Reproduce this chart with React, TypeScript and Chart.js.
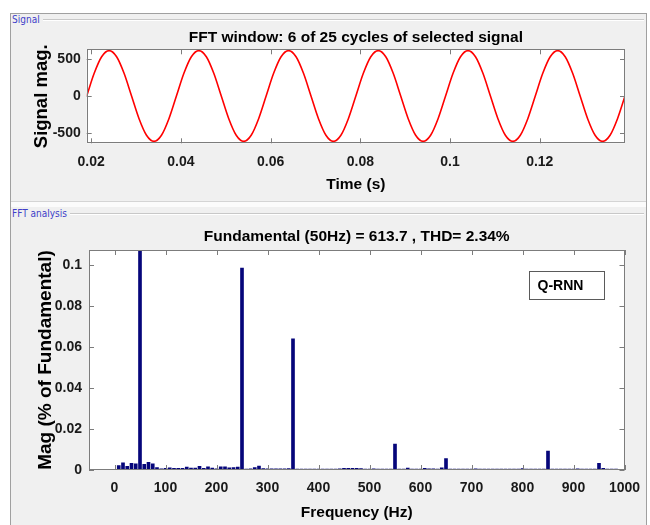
import React, { useEffect, useRef } from 'react';
import { Chart, registerables } from 'chart.js';

Chart.register(...registerables);

const FONT = "'Liberation Sans', Arial, Helvetica, sans-serif";
const SMALL_FONT = "'Liberation Sans Narrow', 'DejaVu Sans Condensed', 'Liberation Sans', sans-serif";

// ---------- Signal panel data ----------
const sigTime = [
  0.019, 0.02067, 0.02233, 0.024, 0.02567, 0.02733, 0.029, 0.03067, 0.03233, 0.034, 0.03567, 0.03733,
  0.039, 0.04067, 0.04233, 0.044, 0.04567, 0.04733, 0.049, 0.05067, 0.05233, 0.054, 0.05567, 0.05733,
  0.059, 0.06067, 0.06233, 0.064, 0.06567, 0.06733, 0.069, 0.07067, 0.07233, 0.074, 0.07567, 0.07733,
  0.079, 0.08067, 0.08233, 0.084, 0.08567, 0.08733, 0.089, 0.09067, 0.09233, 0.094, 0.09567, 0.09733,
  0.099, 0.10067, 0.10233, 0.104, 0.10567, 0.10733, 0.109, 0.11067, 0.11233, 0.114, 0.11567, 0.11733,
  0.119, 0.12067, 0.12233, 0.124, 0.12567, 0.12733, 0.129, 0.13067, 0.13233, 0.134, 0.13567, 0.13733,
  0.139,
];
const sigValue = [
  0, 307, 531, 614, 531, 307, 0, -307, -531, -614, -531, -307,
  0, 307, 531, 614, 531, 307, 0, -307, -531, -614, -531, -307,
  0, 307, 531, 614, 531, 307, 0, -307, -531, -614, -531, -307,
  0, 307, 531, 614, 531, 307, 0, -307, -531, -614, -531, -307,
  0, 307, 531, 614, 531, 307, 0, -307, -531, -614, -531, -307,
  0, 307, 531, 614, 531, 307, 0, -307, -531, -614, -531, -307,
  0,
];
const sigXTicks = [0.02, 0.04, 0.06, 0.08, 0.1, 0.12];
const sigXTickLabels = ['0.02', '0.04', '0.06', '0.08', '0.1', '0.12'];
const sigYTicks = [-500, 0, 500];
const sigYTickLabels = ['-500', '0', '500'];

// ---------- FFT panel data ----------
const fftFreq = [
  0, 8.33, 16.67, 25, 33.33, 41.67, 50, 58.33, 66.67, 75, 83.33, 91.67,
  100, 108.33, 116.67, 125, 133.33, 141.67, 150, 158.33, 166.67, 175, 183.33, 191.67,
  200, 208.33, 216.67, 225, 233.33, 241.67, 250, 258.33, 266.67, 275, 283.33, 291.67,
  300, 308.33, 316.67, 325, 333.33, 341.67, 350, 358.33, 366.67, 375, 383.33, 391.67,
  400, 408.33, 416.67, 425, 433.33, 441.67, 450, 458.33, 466.67, 475, 483.33, 491.67,
  500, 508.33, 516.67, 525, 533.33, 541.67, 550, 558.33, 566.67, 575, 583.33, 591.67,
  600, 608.33, 616.67, 625, 633.33, 641.67, 650, 658.33, 666.67, 675, 683.33, 691.67,
  700, 708.33, 716.67, 725, 733.33, 741.67, 750, 758.33, 766.67, 775, 783.33, 791.67,
  800, 808.33, 816.67, 825, 833.33, 841.67, 850, 858.33, 866.67, 875, 883.33, 891.67,
  900, 908.33, 916.67, 925, 933.33, 941.67, 950, 958.33, 966.67, 975, 983.33, 991.67,
  1000,
];
const fftMag = [
  0.0003, 0.0022, 0.0035, 0.0018, 0.0033, 0.003, 100, 0.0028, 0.0037, 0.003, 0.0012, 0.0006,
  0.0008, 0.001, 0.0008, 0.0008, 0.0008, 0.0014, 0.0009, 0.0009, 0.0018, 0.0008, 0.0016, 0.0009,
  0.0006, 0.0015, 0.0015, 0.001, 0.0012, 0.0014, 0.0985, 0.0004, 0.0006, 0.0012, 0.0019, 0.0007,
  0.0006, 0.0006, 0.0006, 0.0006, 0.0006, 0.0007, 0.064, 0.0005, 0.0005, 0.0005, 0.0005, 0.0005,
  0.0004, 0.0005, 0.0004, 0.0005, 0.0004, 0.0006, 0.0008, 0.0008, 0.0008, 0.0008, 0.0007, 0.0005,
  0.0005, 0.0006, 0.0004, 0.0004, 0.0004, 0.0004, 0.0127, 0.0005, 0.0005, 0.0009, 0.0005, 0.0004,
  0.0004, 0.0008, 0.0006, 0.0006, 0.0005, 0.0011, 0.0056, 0.0004, 0.0004, 0.0004, 0.0005, 0.0004,
  0.0004, 0.0006, 0.0005, 0.0005, 0.0004, 0.0004, 0.0004, 0.0004, 0.0005, 0.0004, 0.0004, 0.0005,
  0.0007, 0.0005, 0.0004, 0.0004, 0.0005, 0.0004, 0.0092, 0.0005, 0.0005, 0.0004, 0.0004, 0.0005,
  0.0004, 0.0006, 0.0004, 0.0004, 0.0005, 0.0004, 0.0032, 0.0008, 0.0005, 0.0004, 0.0004, 0.0003,
  0.0003,
];
const fftXTicks = [0, 100, 200, 300, 400, 500, 600, 700, 800, 900, 1000];
const fftXTickLabels = ['0', '100', '200', '300', '400', '500', '600', '700', '800', '900', '1000'];
const fftYTicks = [0, 0.02, 0.04, 0.06, 0.08, 0.1];
const fftYTickLabels = ['0', '0.02', '0.04', '0.06', '0.08', '0.1'];

// ---------- plugin: white axes box, inward ticks, frame, legend ----------
const axesBox = {
  id: 'axesBox',
  beforeDraw(chart: any) {
    const { ctx, chartArea: a } = chart;
    ctx.save();
    ctx.fillStyle = '#ffffff';
    ctx.fillRect(a.left, a.top, a.right - a.left, a.bottom - a.top);
    ctx.restore();
  },
  afterDatasetsDraw(chart: any, _args: any, opts: any) {
    const { ctx, chartArea: a, scales } = chart;
    const x = scales.x;
    const y = scales.y;
    const L = 5;
    ctx.save();
    ctx.strokeStyle = '#7c7c7c';
    ctx.lineWidth = 1;
    ctx.beginPath();
    for (const t of x.ticks) {
      const px = Math.round(x.getPixelForValue(t.value)) + 0.5;
      ctx.moveTo(px, a.bottom);
      ctx.lineTo(px, a.bottom - L);
      ctx.moveTo(px, a.top);
      ctx.lineTo(px, a.top + L);
    }
    for (const t of y.ticks) {
      const py = Math.round(y.getPixelForValue(t.value)) + 0.5;
      ctx.moveTo(a.left, py);
      ctx.lineTo(a.left + L, py);
      ctx.moveTo(a.right, py);
      ctx.lineTo(a.right - L, py);
    }
    ctx.stroke();
    const l = Math.round(a.left) + 0.5;
    const tp = Math.round(a.top) + 0.5;
    const r = Math.round(a.right) - 0.5;
    const b = Math.round(a.bottom) - 0.5;
    ctx.strokeRect(l, tp, r - l, b - tp);
    if (opts && opts.legend) {
      const lg = opts.legend;
      const x0 = Math.round(a.right - lg.right - lg.w) + 0.5;
      const y0 = Math.round(a.top + lg.top) + 0.5;
      ctx.fillStyle = '#ffffff';
      ctx.fillRect(x0, y0, lg.w, lg.h);
      ctx.strokeStyle = '#5a5a5a';
      ctx.strokeRect(x0, y0, lg.w, lg.h);
      ctx.fillStyle = '#000000';
      ctx.font = `bold 14px ${FONT}`;
      ctx.textBaseline = 'middle';
      ctx.textAlign = 'left';
      ctx.fillText(lg.text, x0 + 8, y0 + lg.h / 2 + 1);
    }
    ctx.restore();
  },
};

const tickFont = { family: FONT, size: 14, weight: 'bold' as const };
const TICK_COLOR = '#1a1a1a';

export default function App() {
  const c1 = useRef<HTMLCanvasElement>(null);
  const c2 = useRef<HTMLCanvasElement>(null);

  useEffect(() => {
    const ch1 = new Chart(c1.current as HTMLCanvasElement, {
      type: 'line',
      data: {
        datasets: [
          {
            data: sigTime.map((t, i) => ({ x: t, y: sigValue[i] })),
            borderColor: '#ff0000',
            borderWidth: 1.6,
            pointRadius: 0,
            cubicInterpolationMode: 'monotone',
            fill: false,
          },
        ],
      },
      options: {
        animation: false,
        responsive: false,
        devicePixelRatio: 1,
        layout: { padding: { left: 0, right: 25, top: 28.2, bottom: 0 } },
        plugins: {
          legend: { display: false },
          tooltip: { enabled: false },
          title: {
            display: true,
            fullSize: false,
            text: 'FFT window: 6 of 25 cycles of selected signal',
            color: '#000000',
            font: { family: FONT, size: 15.5, weight: 'bold' },
            padding: { top: 0, bottom: 2.5 },
          },
          axesBox: {},
        } as any,
        scales: {
          x: {
            type: 'linear',
            min: 0.019,
            max: 0.139,
            offset: false,
            grid: { display: false, drawTicks: false },
            border: { display: false },
            afterBuildTicks: (s: any) => {
              s.ticks = sigXTicks.map((v) => ({ value: v }));
            },
            afterFit: (s: any) => {
              s.height = 56.7;
            },
            ticks: {
              autoSkip: false,
              maxRotation: 0,
              padding: 10,
              color: TICK_COLOR,
              font: tickFont,
              callback: (_v: any, i: number) => sigXTickLabels[i],
            },
            title: {
              display: true,
              text: 'Time (s)',
              color: '#000000',
              font: { family: FONT, size: 15.5, weight: 'bold' },
              padding: { top: 0, bottom: 5.7 },
            },
          },
          y: {
            type: 'linear',
            min: -640,
            max: 632,
            grid: { display: false, drawTicks: false },
            border: { display: false },
            afterBuildTicks: (s: any) => {
              s.ticks = sigYTicks.map((v) => ({ value: v }));
            },
            afterFit: (s: any) => {
              s.width = 86.7;
            },
            ticks: {
              padding: 6,
              color: TICK_COLOR,
              font: tickFont,
              callback: (_v: any, i: number) => sigYTickLabels[i],
            },
            title: {
              display: true,
              text: 'Signal mag.',
              color: '#000000',
              font: { family: FONT, size: 18.5, weight: 'bold' },
              padding: { top: 31, bottom: 0 },
            },
          },
        },
      },
      plugins: [axesBox],
    } as any);

    const ch2 = new Chart(c2.current as HTMLCanvasElement, {
      type: 'bar',
      data: {
        datasets: [
          {
            data: fftFreq.map((f, i) => ({ x: f, y: fftMag[i] })),
            backgroundColor: '#06067a',
            borderWidth: 0,
            barThickness: 3,
            grouped: false,
          },
        ],
      },
      options: {
        animation: false,
        responsive: false,
        devicePixelRatio: 1,
        layout: { padding: { left: 0, right: 25.5, top: 27.7, bottom: 0 } },
        plugins: {
          legend: { display: false },
          tooltip: { enabled: false },
          title: {
            display: true,
            fullSize: false,
            text: 'Fundamental (50Hz) = 613.7 , THD= 2.34%',
            color: '#000000',
            font: { family: FONT, size: 15.5, weight: 'bold' },
            padding: { top: 0, bottom: 3.7 },
          },
          axesBox: { legend: { text: 'Q-RNN', right: 21, top: 21, w: 75, h: 28 } },
        } as any,
        scales: {
          x: {
            type: 'linear',
            min: -50,
            max: 1000,
            offset: false,
            grid: { display: false, drawTicks: false, offset: false },
            border: { display: false },
            afterBuildTicks: (s: any) => {
              s.ticks = fftXTicks.map((v) => ({ value: v }));
            },
            afterFit: (s: any) => {
              s.height = 55;
            },
            ticks: {
              autoSkip: false,
              maxRotation: 0,
              padding: 9.6,
              color: TICK_COLOR,
              font: tickFont,
              callback: (_v: any, i: number) => fftXTickLabels[i],
            },
            title: {
              display: true,
              text: 'Frequency (Hz)',
              color: '#000000',
              font: { family: FONT, size: 15.5, weight: 'bold' },
              padding: { top: 0, bottom: 3.2 },
            },
          },
          y: {
            type: 'linear',
            min: 0,
            max: 0.1073,
            grid: { display: false, drawTicks: false },
            border: { display: false },
            afterBuildTicks: (s: any) => {
              s.ticks = fftYTicks.map((v) => ({ value: v }));
            },
            afterFit: (s: any) => {
              s.width = 89;
            },
            ticks: {
              padding: 7,
              color: TICK_COLOR,
              font: tickFont,
              callback: (_v: any, i: number) => fftYTickLabels[i],
            },
            title: {
              display: true,
              text: 'Mag (% of Fundamental)',
              color: '#000000',
              font: { family: FONT, size: 19, weight: 'bold' },
              padding: { top: 34.6, bottom: 0 },
            },
          },
        },
      },
      plugins: [axesBox],
    } as any);

    return () => {
      ch1.destroy();
      ch2.destroy();
    };
  }, []);

  const groupLabel: React.CSSProperties = {
    position: 'absolute',
    left: 12,
    fontFamily: SMALL_FONT,
    fontSize: 10,
    lineHeight: '12px',
    color: '#4040c8',
    background: '#f0f0f0',
    paddingRight: 3,
    whiteSpace: 'nowrap',
  };

  return (
    <div
      style={{
        position: 'absolute',
        left: 0,
        top: 0,
        width: 650,
        height: 525,
        background: '#ffffff',
        overflow: 'hidden',
      }}
    >
      {/* outer panel */}
      <div
        style={{
          position: 'absolute',
          left: 10,
          top: 13,
          width: 635,
          height: 520,
          background: '#f0f0f0',
          borderTop: '1px solid #a0a0a0',
          borderLeft: '1px solid #a0a0a0',
          borderRight: '1px solid #a0a0a0',
        }}
      />
      {/* group box lines */}
      <div style={{ position: 'absolute', left: 12, top: 19, width: 632, height: 1, background: '#c8c8c8' }} />
      <div style={{ position: 'absolute', left: 12, top: 20, width: 632, height: 1, background: '#ffffff' }} />
      {/* separator band */}
      <div style={{ position: 'absolute', left: 11, top: 201, width: 635, height: 1, background: '#d4d4d4' }} />
      <div style={{ position: 'absolute', left: 11, top: 202, width: 635, height: 5, background: '#fbfbfb' }} />
      <div style={{ position: 'absolute', left: 12, top: 213, width: 632, height: 1, background: '#c8c8c8' }} />
      <div style={{ position: 'absolute', left: 12, top: 214, width: 632, height: 1, background: '#ffffff' }} />
      <div style={{ ...groupLabel, top: 14 }}>Signal</div>
      <div style={{ ...groupLabel, top: 208 }}>FFT analysis</div>

      <canvas
        ref={c1}
        width={650}
        height={200}
        style={{ position: 'absolute', left: 0, top: 0, width: 650, height: 200 }}
      />
      <canvas
        ref={c2}
        width={650}
        height={325}
        style={{ position: 'absolute', left: 0, top: 200, width: 650, height: 325 }}
      />
    </div>
  );
}
